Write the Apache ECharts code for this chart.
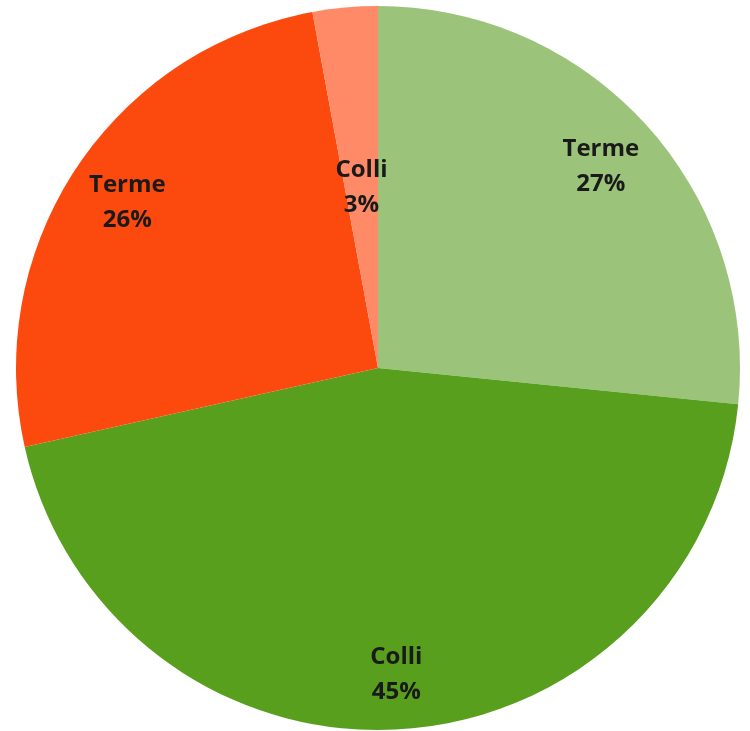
<!DOCTYPE html>
<html>
<head>
<meta charset="utf-8">
<script src="https://cdn.jsdelivr.net/npm/echarts@6/dist/echarts.min.js"></script>
<style>html,body{margin:0;padding:0;background:#fff}#c{width:750px;height:731px}</style>
</head>
<body>
<div id="c"></div>
<script>
const categories = ['Terme', 'Colli', 'Terme', 'Colli'];
const values = [26.6, 44.9, 25.6, 2.9];
const colors = ['#9BC47A', '#599F1E', '#FC4A0E', '#FF8A68'];
const labelRadiusFrac = [0.83, 0.85, 0.83, 0.5];

const CX = 378, CY = 368, R = 362;
const total = values.reduce((a, b) => a + b, 0);
const midAngles = [];
let acc = 0;
values.forEach(v => { midAngles.push((acc + v / 2) / total * 2 * Math.PI); acc += v; });

const chart = echarts.init(document.getElementById('c'));
chart.setOption({
  animation: false,
  series: [{
    type: 'pie',
    center: [CX, CY],
    radius: [0, R],
    startAngle: 90,
    clockwise: true,
    avoidLabelOverlap: false,
    itemStyle: { borderWidth: 0 },
    label: {
      show: true,
      position: 'inside',
      formatter: p => p.name + '\n' + Math.round(p.value) + '%',
      fontFamily: 'Open Sans',
      fontWeight: 'bold',
      fontSize: 24,
      lineHeight: 35,
      color: '#1a1a1a',
      align: 'center',
      verticalAlign: 'middle'
    },
    labelLine: { show: false },
    labelLayout: function (p) {
      const i = p.dataIndex;
      const a = midAngles[i];
      const rr = R * labelRadiusFrac[i];
      return { x: CX + rr * Math.sin(a), y: CY - rr * Math.cos(a), align: 'center', verticalAlign: 'middle' };
    },
    data: categories.map((c, i) => ({ name: c, value: values[i], itemStyle: { color: colors[i] } }))
  }]
});
</script>
</body>
</html>
